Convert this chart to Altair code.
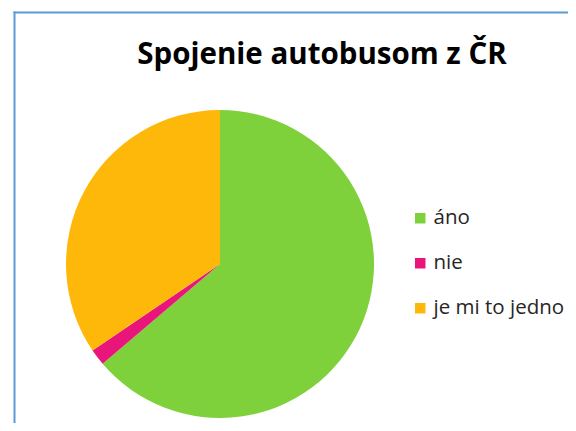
import altair as alt
import pandas as pd

categories = ["áno", "nie", "je mi to jedno"]
values = [37, 1, 20]
colors = ["#7FD13B", "#EA157A", "#FEB80A"]
title_text = "Spojenie autobusom z ČR"

df = pd.DataFrame({"kategoria": categories, "pocet": values, "poradie": list(range(len(categories)))})

font = "Open Sans"

pie = alt.Chart(df).mark_arc(radius=154, stroke=None).encode(
    theta=alt.Theta("pocet:Q", stack=True),
    order=alt.Order("poradie:O"),
    color=alt.Color(
        "kategoria:N",
        sort=categories,
        scale=alt.Scale(domain=categories, range=colors),
        legend=alt.Legend(
            title=None,
            orient="none",
            legendX=402,
            legendY=200,
            symbolType="square",
            symbolSize=110,
            symbolStrokeWidth=0,
            labelFontSize=20.5,
            labelFont=font,
            labelColor="#262626",
            rowPadding=24,
            labelOffset=3,
        ),
    ),
    x=alt.value(212),
    y=alt.value(256),
)

title = alt.Chart(pd.DataFrame({"t": [title_text]})).mark_text(
    font=font, fontSize=29.5, fontWeight="bold", color="#000000", align="center", baseline="alphabetic"
).encode(text="t:N", x=alt.value(314), y=alt.value(56))

border_color = "#5B9BD5"
left_border = alt.Chart(pd.DataFrame({"a": [0]})).mark_rule(color=border_color, strokeWidth=2).encode(
    x=alt.value(6.5), y=alt.value(3.5), y2=alt.value(420)
)
top_border = alt.Chart(pd.DataFrame({"a": [0]})).mark_rule(color=border_color, strokeWidth=2).encode(
    x=alt.value(5.5), x2=alt.value(570), y=alt.value(4.5)
)

chart = alt.layer(pie, title, left_border, top_border).properties(
    width=560, height=415, padding=0, autosize=alt.AutoSizeParams(type="none")
).configure_view(strokeWidth=0)

chart.save("out.html", embed_options={"renderer": "svg", "actions": False})
